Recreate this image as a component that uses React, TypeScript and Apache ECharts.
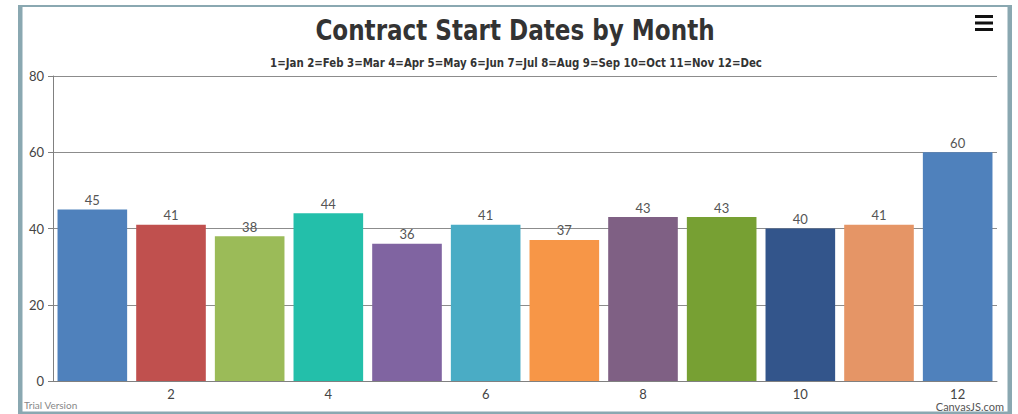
import React, { useEffect, useRef } from "react";
import * as echarts from "echarts";

const months = ["1", "2", "3", "4", "5", "6", "7", "8", "9", "10", "11", "12"];
const counts = [45, 41, 38, 44, 36, 41, 37, 43, 43, 40, 41, 60];
const palette = ["#4F81BC", "#C0504E", "#9BBB58", "#23BFAA", "#8064A1", "#4AACC5", "#F79647", "#7F6084", "#77A033", "#33558B", "#E59566", "#4F81BC"];
const titleText = "Contract Start Dates by Month";
const subtitleText = "1=Jan 2=Feb 3=Mar 4=Apr 5=May 6=Jun 7=Jul 8=Aug 9=Sep 10=Oct 11=Nov 12=Dec";

const labelFont = "Lato, 'Open Sans', sans-serif";
const headFont = "'DejaVu Sans Condensed', 'DejaVu Sans', sans-serif";

export default function App() {
  const ref = useRef<HTMLDivElement>(null);
  useEffect(() => {
    const chart = echarts.init(ref.current!, null, { renderer: "svg" });
    const frame = "#8AA8B1";
    chart.setOption({
      animation: false,
      backgroundColor: "#ffffff",
      color: palette,
      grid: { left: 53, right: 21, top: 76, bottom: 33, containLabel: false },
      xAxis: {
        type: "category",
        data: months,
        axisLine: { lineStyle: { color: "#808080", width: 1 } },
        axisTick: { alignWithLabel: true, length: 5, interval: (i: number) => i % 2 === 1, lineStyle: { color: "#808080" } },
        axisLabel: { interval: (i: number) => i % 2 === 1, color: "#444", fontSize: 13, lineHeight: 13, fontFamily: labelFont, margin: 6 },
      },
      yAxis: {
        type: "value",
        min: 0,
        max: 80,
        interval: 20,
        axisLine: { show: true, lineStyle: { color: "#808080" } },
        axisTick: { show: true, length: 5, lineStyle: { color: "#808080" } },
        axisLabel: { color: "#444", fontSize: 13, fontFamily: labelFont, margin: 9 },
        splitLine: { lineStyle: { color: "#8c8c8c", width: 1 } },
      },
      series: [
        {
          type: "bar",
          data: counts,
          colorBy: "data",
          barCategoryGap: "11.5%",
          label: { show: true, position: "top", distance: 3, color: "#555", fontSize: 13, fontFamily: labelFont },
        },
      ],
      graphic: [
        { type: "rect", shape: { x: 18, y: 5, width: 4.5, height: 409 }, style: { fill: frame }, silent: true },
        { type: "rect", shape: { x: 1007.5, y: 5, width: 4.5, height: 409 }, style: { fill: frame }, silent: true },
        { type: "rect", shape: { x: 18, y: 5, width: 994, height: 2 }, style: { fill: frame }, silent: true },
        { type: "rect", shape: { x: 18, y: 411.5, width: 994, height: 3 }, style: { fill: frame }, silent: true },
        {
          type: "text",
          x: 515,
          y: 30,
          scaleX: 0.885,
          style: { text: titleText, font: `bold 29px ${headFont}`, fill: "#333333", textAlign: "center", textVerticalAlign: "middle" },
        },
        {
          type: "text",
          x: 516,
          y: 62.5,
          scaleX: 0.945,
          style: { text: subtitleText, font: `bold 12px ${headFont}`, fill: "#333333", textAlign: "center", textVerticalAlign: "middle" },
        },
        { type: "rect", shape: { x: 975, y: 15, width: 18, height: 3 }, style: { fill: "#111" } },
        { type: "rect", shape: { x: 975, y: 21.5, width: 18, height: 3 }, style: { fill: "#111" } },
        { type: "rect", shape: { x: 975, y: 28, width: 18, height: 3 }, style: { fill: "#111" } },
        {
          type: "text",
          x: 24,
          y: 405,
          style: { text: "Trial Version", font: `10px ${labelFont}`, fill: "#888", textAlign: "left", textVerticalAlign: "middle" },
        },
        {
          type: "text",
          x: 1004,
          y: 406,
          style: { text: "CanvasJS.com", font: `11px ${labelFont}`, lineHeight: 11, fill: "#555", textAlign: "right", textVerticalAlign: "middle" },
        },
      ],
    });
    return () => chart.dispose();
  }, []);
  return <div ref={ref} style={{ position: "fixed", left: 0, top: 0, width: 1018, height: 414 }} />;
}
